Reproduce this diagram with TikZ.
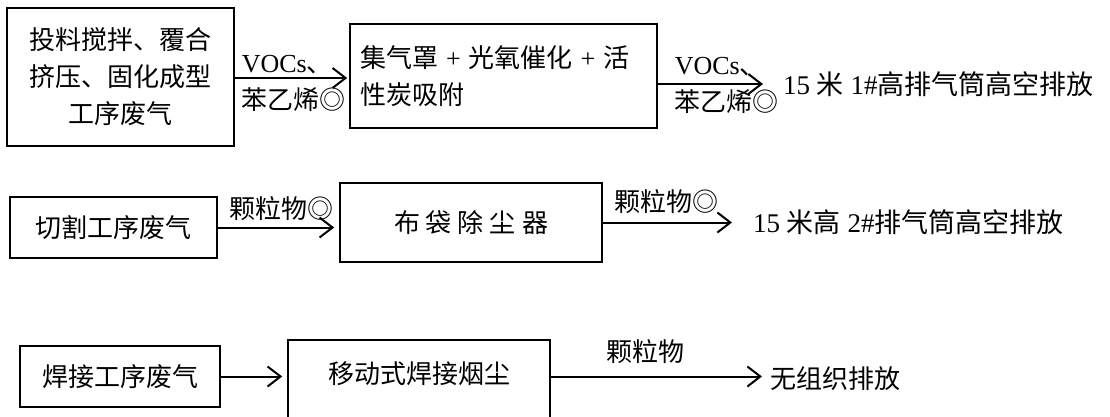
\documentclass[tikz,border=0pt]{standalone}
\usepackage{fontspec}
\setmainfont{Liberation Serif}
\newfontfamily\cjk{Noto Sans CJK SC}
\usetikzlibrary{arrows.meta}
\newcommand\gp{\hspace{8pt}}
\newcommand\gq{\hspace{6pt}}
\begin{document}
\begin{tikzpicture}[x=1pt,y=-1pt,
  every node/.style={inner sep=0pt, font=\fontsize{26}{37}\selectfont\cjk},
  box/.style={draw, line width=1.6pt, align=center},
  flow/.style={line width=2pt, -{Straight Barb[length=13pt,width=20pt,line width=2pt]}},
  lbl/.style={anchor=base west}]
\useasboundingbox (0,0) rectangle (1110,416);

% row 1
\node[box, minimum width=227pt, minimum height=138pt] (b1) at (120.5,77)
  {投料搅拌、覆合\\挤压、固化成型\\工序废气};
\node[box, minimum width=307pt, minimum height=104pt, text width=287pt, align=left] (b2) at (503.5,76)
  {集气罩\gp{\rmfamily+}\gp 光氧催化\gp{\rmfamily+}\gp 活\\性炭吸附};
\node[anchor=west, font=\fontsize{27}{37}\selectfont\cjk] (o1) at (783,84) {{\rmfamily 15 }米{\rmfamily\ 1\#}高排气筒高空排放};

\draw[flow, shorten >=2pt] (b1.east |- 0,78) -- (b2.west |- 0,78)
  node[lbl, pos=0, xshift=6pt, yshift=6pt] {{\rmfamily VOCs}、}
  node[lbl, pos=0, xshift=6pt, yshift=-31pt] {苯乙烯◎};
\draw[flow, shorten >=20pt] (b2.east |- o1.west) -- (o1.west)
  node[lbl, pos=0, xshift=16pt, yshift=10pt] {{\rmfamily VOCs}、}
  node[lbl, pos=0, xshift=16pt, yshift=-27pt] {苯乙烯◎};

% row 2
\node[box, minimum width=207pt, minimum height=61pt] (b3) at (113.5,227.5) {切割工序废气};
\node[box, minimum width=262pt, minimum height=79pt] (b4) at (471,222.5) {布\gq 袋\gq 除\gq 尘\gq 器};
\node[anchor=west, font=\fontsize{27}{37}\selectfont\cjk] (o2) at (753,222) {{\rmfamily 15 }米高{\rmfamily\ 2\#}排气筒高空排放};

\draw[flow, shorten >=5pt] (b3.east) -- (b4.west |- b3.east)
  node[lbl, pos=0, xshift=11pt, yshift=9pt] {颗粒物◎};
\draw[flow, shorten >=21pt] (b4.east) -- (o2.west |- b4.east)
  node[lbl, pos=0, xshift=11pt, yshift=11pt] {颗粒物◎};

% row 3
\node[box, minimum width=200pt, minimum height=61pt] (b5) at (120,376.5) {焊接工序废气};
\node[box, minimum width=262pt, minimum height=100pt, text height=23pt, text depth=37pt] (b6) at (419,390) {移动式焊接烟尘};
\node[anchor=west] (o3) at (770,379) {无组织排放};

\draw[flow, shorten >=5pt] (b5.east) -- (b6.west |- b5.east);
\draw[flow, shorten >=8pt] (b6.east |- b5.east) -- (o3.west |- b5.east)
  node[lbl, pos=0, xshift=55pt, yshift=15pt] {颗粒物};
\end{tikzpicture}
\end{document}
